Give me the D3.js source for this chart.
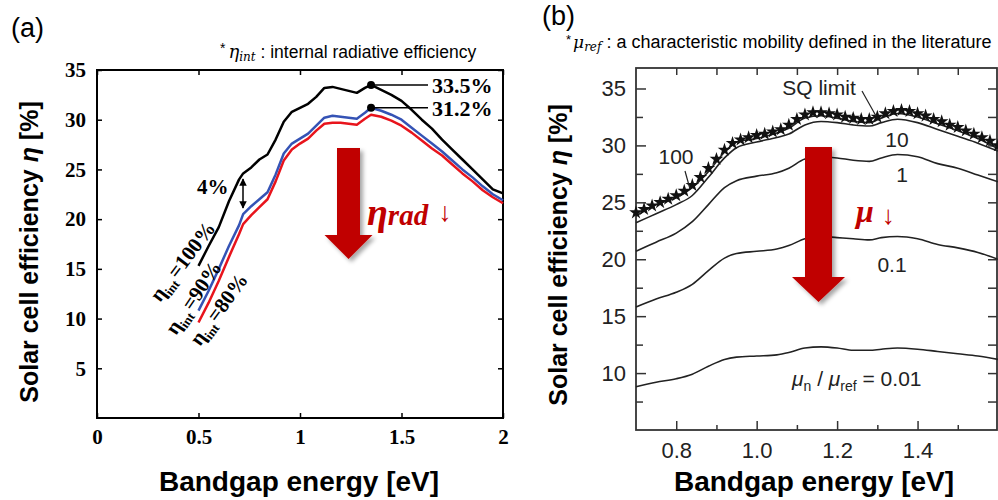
<!DOCTYPE html>
<meta charset="utf-8">
<style>
body { margin: 0; background: #fff; }
svg { display: block; font-family: "Liberation Sans", Arial, sans-serif; }
.axA text { font-family: "Liberation Serif", "Times New Roman", serif; font-weight: bold; font-size: 21px; fill: #000; }
.axA line { stroke: #000; stroke-width: 1.5px; }
.axA path { display: none; }
.axB text { font-family: "Liberation Sans", Arial, sans-serif; font-size: 22px; fill: #222; }
.axB line { stroke: #333; stroke-width: 1.5px; }
.axB path { display: none; }
.curve { fill: none; stroke-linejoin: round; }
.serifb { font-family: "Liberation Serif", "Times New Roman", serif; font-weight: bold; }
</style>
<body>
<script src="https://d3js.org/d3.v7.min.js"></script>
<script>

// ---- panel (a): efficiency vs bandgap for eta_int = 100 / 90 / 80 %
var energyA = [0.5, 0.55, 0.6, 0.65, 0.7, 0.72, 0.76, 0.8, 0.84, 0.88, 0.92, 0.96, 1.0, 1.04, 1.08, 1.12,
               1.16, 1.2, 1.24, 1.28, 1.32, 1.35, 1.4, 1.45, 1.5, 1.55, 1.6, 1.65, 1.7, 1.75, 1.8, 1.85, 1.9, 1.95, 2.0];
var eta100 = [15.3, 17.3, 19.2, 21.8, 24.0, 24.6, 25.2, 26.0, 26.5, 28.0, 29.8, 30.8, 31.2, 31.6, 32.3, 33.2,
              33.3, 33.1, 32.9, 32.7, 33.2, 33.5, 33.0, 32.5, 31.9, 31.0, 30.0, 29.1, 28.0, 27.0, 26.0, 25.0, 24.0, 23.0, 22.6];
var eta90 = [10.8, 12.8, 15.0, 17.3, 19.4, 20.5, 21.3, 22.0, 22.7, 24.5, 26.6, 27.6, 28.1, 28.6, 29.4, 30.2,
             30.4, 30.3, 30.2, 30.1, 30.7, 31.2, 30.9, 30.5, 30.0, 29.2, 28.4, 27.6, 26.8, 25.9, 25.0, 24.2, 23.3, 22.5, 21.9];
var eta80 = [9.6, 11.6, 13.8, 16.2, 18.5, 19.5, 20.4, 21.2, 22.0, 23.8, 25.9, 27.0, 27.6, 28.1, 28.9, 29.6,
             29.7, 29.7, 29.6, 29.5, 30.1, 30.5, 30.3, 29.9, 29.4, 28.7, 27.9, 27.1, 26.4, 25.5, 24.6, 23.8, 22.9, 22.2, 21.6];
var peaksA = [{e: 1.35, v: 33.5, label: "33.5%"}, {e: 1.35, v: 31.2, label: "31.2%"}];
var ticksXA = [0, 0.5, 1, 1.5, 2];
var ticksYA = [5, 10, 15, 20, 25, 30, 35];

// ---- panel (b): efficiency vs bandgap for mobility ratios
var energyB = [0.70, 0.75, 0.80, 0.84, 0.88, 0.92, 0.95, 1.00, 1.05, 1.08, 1.12, 1.16, 1.20, 1.24, 1.28, 1.31,
               1.35, 1.40, 1.45, 1.50, 1.55, 1.60];
var mu100 = [23.8, 24.8, 25.4, 26.3, 27.7, 29.4, 30.3, 30.6, 31.1, 31.5, 32.4, 32.6, 32.4, 32.1, 32.0, 32.4,
             32.8, 32.5, 31.9, 31.3, 30.6, 29.7];
var mu10 = [23.2, 24.0, 24.8, 25.6, 27.2, 28.9, 29.8, 30.3, 30.7, 31.0, 31.8, 32.1, 32.0, 31.8, 31.7, 32.0,
            32.3, 32.0, 31.4, 30.8, 30.2, 29.5];
var mu1 = [20.7, 21.5, 22.3, 23.3, 24.8, 26.3, 26.9, 27.3, 27.6, 28.0, 28.8, 29.0, 28.9, 28.7, 28.6, 28.9,
           29.2, 29.0, 28.4, 28.0, 27.4, 26.8];
var mu01 = [15.8, 16.5, 17.1, 17.8, 19.0, 20.1, 20.5, 20.7, 20.9, 21.2, 21.8, 22.0, 21.9, 21.8, 21.7, 21.9,
            22.0, 21.8, 21.3, 21.0, 20.6, 20.0];
var mu001 = [8.8, 9.2, 9.5, 9.9, 10.6, 11.2, 11.4, 11.5, 11.6, 11.8, 12.2, 12.3, 12.2, 12.0, 12.0, 12.1,
             12.2, 12.1, 11.9, 11.7, 11.5, 11.2];
var sqEnergy = [0.70, 0.72, 0.74, 0.76, 0.78, 0.80, 0.82, 0.84, 0.86, 0.88, 0.90, 0.92, 0.94, 0.96, 0.98, 1.00,
                1.02, 1.04, 1.06, 1.08, 1.10, 1.12, 1.14, 1.16, 1.18, 1.20, 1.22, 1.24, 1.26, 1.28, 1.30, 1.32,
                1.34, 1.36, 1.38, 1.40, 1.42, 1.44, 1.46, 1.48, 1.50, 1.52, 1.54, 1.56, 1.58, 1.60];
var sqEta = [24.1, 24.4, 24.7, 25.0, 25.3, 25.6, 26.0, 26.5, 27.2, 28.0, 28.8, 29.6, 30.2, 30.5, 30.7, 30.9,
             31.0, 31.2, 31.4, 31.8, 32.3, 32.7, 32.9, 32.9, 32.8, 32.7, 32.5, 32.4, 32.3, 32.3, 32.5, 32.8,
             33.0, 33.1, 33.0, 32.8, 32.6, 32.3, 32.1, 31.8, 31.6, 31.3, 31.0, 30.7, 30.4, 30.0];
var ticksXB = [0.8, 1.0, 1.2, 1.4];
var minorXB = [0.9, 1.1, 1.3, 1.5];
var ticksYB = [10, 15, 20, 25, 30, 35];
var minorYB = [7.5, 12.5, 17.5, 22.5, 27.5, 32.5];

var svg = d3.select("body").append("svg")
    .attr("width", 998)
    .attr("height", 500);

var defs = svg.append("defs");
defs.append("filter").attr("id", "shadow")
    .attr("x", "-30%").attr("y", "-20%").attr("width", "160%").attr("height", "140%")
  .append("feDropShadow")
    .attr("dx", 3).attr("dy", 3).attr("stdDeviation", 2)
    .attr("flood-color", "#000").attr("flood-opacity", 0.35);
defs.append("marker").attr("id", "ah")
    .attr("viewBox", "0 0 10 10").attr("refX", 9).attr("refY", 5)
    .attr("markerWidth", 5).attr("markerHeight", 5).attr("orient", "auto-start-reverse")
  .append("path").attr("d", "M0,0 L10,5 L0,10 z").attr("fill", "#000");

function arrowPath(cx, top, shaftW, headW, headY, tipY) {
  return "M" + (cx - shaftW / 2) + "," + top + "H" + (cx + shaftW / 2) + "V" + headY +
         "H" + (cx + headW / 2) + "L" + cx + "," + tipY + "L" + (cx - headW / 2) + "," + headY +
         "H" + (cx - shaftW / 2) + "Z";
}

// ================= panel (a) =================
var xa = d3.scaleLinear().domain([0, 2]).range([97, 503]);
var ya = d3.scaleLinear().domain([0, 35]).range([418, 70]);

var ga = svg.append("g");

ga.append("g").attr("class", "axA").attr("transform", "translate(0,418)")
  .call(d3.axisBottom(xa).tickValues(ticksXA).tickSize(-5).tickPadding(11).tickFormat(d3.format("")));
ga.append("g").attr("class", "axA").attr("transform", "translate(0,70)")
  .call(d3.axisTop(xa).tickValues(ticksXA).tickSize(-5).tickFormat(""));
ga.append("g").attr("class", "axA").attr("transform", "translate(97,0)")
  .call(d3.axisLeft(ya).tickValues(ticksYA).tickSize(-5).tickPadding(11));
ga.append("g").attr("class", "axA").attr("transform", "translate(503,0)")
  .call(d3.axisRight(ya).tickValues(ticksYA).tickSize(-5).tickFormat(""));
ga.append("rect").attr("x", 97).attr("y", 70).attr("width", 406).attr("height", 348)
  .attr("fill", "none").attr("stroke", "#000").attr("stroke-width", 2);

var lineA = function(vals) {
  return d3.line().x(function(d, i) { return xa(energyA[i]); })
                  .y(function(d) { return ya(d); })(vals);
};
ga.append("path").attr("class", "curve").attr("d", lineA(eta80)).attr("stroke", "#e8141c").attr("stroke-width", 2.5);
ga.append("path").attr("class", "curve").attr("d", lineA(eta90)).attr("stroke", "#3553b5").attr("stroke-width", 2.5);
ga.append("path").attr("class", "curve").attr("d", lineA(eta100)).attr("stroke", "#000").attr("stroke-width", 2.5);

peaksA.forEach(function(p) {
  ga.append("line").attr("x1", xa(p.e)).attr("x2", 428).attr("y1", ya(p.v)).attr("y2", ya(p.v))
    .attr("stroke", "#000").attr("stroke-width", 1.5);
  ga.append("circle").attr("cx", xa(p.e)).attr("cy", ya(p.v)).attr("r", 4).attr("fill", "#000");
  ga.append("text").attr("class", "serifb").attr("x", 432).attr("y", ya(p.v) + 8)
    .style("font-size", "22px").text(p.label);
});

// 4% gap marker
ga.append("line").attr("x1", 243).attr("x2", 243).attr("y1", 179).attr("y2", 208)
  .attr("stroke", "#000").attr("stroke-width", 1.5)
  .attr("marker-start", "url(#ah)").attr("marker-end", "url(#ah)");
ga.append("text").attr("class", "serifb").attr("x", 197).attr("y", 194)
  .style("font-size", "21px").text("4%");

// rotated series labels
[{x: 160, y: 303, r: -53, t: "=100%"}, {x: 176, y: 336, r: -56, t: "=90%"}, {x: 200, y: 347, r: -54, t: "=80%"}]
  .forEach(function(l) {
    var t = ga.append("text").attr("class", "serifb")
      .attr("transform", "translate(" + l.x + "," + l.y + ") rotate(" + l.r + ")")
      .style("font-size", "21px");
    t.append("tspan").text("\u03b7");
    t.append("tspan").attr("dy", 5).style("font-size", "13px").text("int");
    t.append("tspan").attr("dy", -5).attr("dx", 2).text(l.t);
  });

// big arrow + eta_rad
ga.append("path").attr("d", arrowPath(348.5, 148, 23, 48, 235, 259))
  .attr("fill", "#c00000").attr("filter", "url(#shadow)");
var er = ga.append("text").attr("x", 367).attr("y", 225).attr("fill", "#c00000")
  .style("font-family", "'Liberation Serif', 'DejaVu Serif', serif").style("font-style", "italic").style("font-weight", "bold");
er.append("tspan").style("font-size", "38px").text("\u03b7");
er.append("tspan").style("font-size", "29px").text("rad");
er.append("tspan").style("font-size", "27px").style("font-style", "normal").style("font-weight", "normal")
  .attr("dx", 10).attr("dy", -4).text("\u2193");

// titles (a)
svg.append("text").attr("x", 11).attr("y", 37).style("font-size", "27px").text("(a)");
var na = svg.append("text").attr("x", 220).attr("y", 58).style("font-size", "17.5px");
na.append("tspan").attr("dy", -5).style("font-size", "14px").text("*");
na.append("tspan").attr("dy", 5).attr("dx", 3).style("font-family", "'DejaVu Serif', serif").style("font-style", "italic").style("font-size", "18px").text("\u03b7");
na.append("tspan").attr("dy", 3).style("font-family", "'DejaVu Serif', serif").style("font-style", "italic").style("font-size", "12px").text("int");
na.append("tspan").attr("dy", -3).text(" : internal radiative efficiency");

var yta = svg.append("text").attr("transform", "translate(38,252) rotate(-90)")
  .attr("text-anchor", "middle").style("font-size", "25px").style("font-weight", "bold");
yta.append("tspan").text("Solar cell efficiency ");
yta.append("tspan").style("font-style", "italic").text("\u03b7");
yta.append("tspan").text(" [%]");
svg.append("text").attr("x", 299).attr("y", 491).attr("text-anchor", "middle")
  .style("font-size", "28px").style("font-weight", "bold").text("Bandgap energy [eV]");

// ================= panel (b) =================
var xb = d3.scaleLinear().domain([0.7, 1.6]).range([636, 998]);
var yb = d3.scaleLinear().domain([5, 36.8]).range([430, 68]);

var gb = svg.append("g");

gb.append("g").attr("class", "axB").attr("transform", "translate(0,430)")
  .call(d3.axisBottom(xb).tickValues(ticksXB).tickSize(-9).tickPadding(12).tickFormat(d3.format(".1f")));
gb.append("g").attr("class", "axB").attr("transform", "translate(0,430)")
  .call(d3.axisBottom(xb).tickValues(minorXB).tickSize(-5).tickFormat(""));
gb.append("g").attr("class", "axB").attr("transform", "translate(0,68)")
  .call(d3.axisTop(xb).tickValues(ticksXB.concat(minorXB)).tickSize(-7).tickFormat(""));
gb.append("g").attr("class", "axB").attr("transform", "translate(636,0)")
  .call(d3.axisLeft(yb).tickValues(ticksYB).tickSize(-10).tickPadding(10));
gb.append("g").attr("class", "axB").attr("transform", "translate(636,0)")
  .call(d3.axisLeft(yb).tickValues(minorYB).tickSize(-7).tickFormat(""));
gb.append("g").attr("class", "axB").attr("transform", "translate(997,0)")
  .call(d3.axisRight(yb).tickValues(ticksYB.concat(minorYB)).tickSize(-9).tickFormat(""));
gb.append("rect").attr("x", 636).attr("y", 68).attr("width", 361).attr("height", 362)
  .attr("fill", "none").attr("stroke", "#333").attr("stroke-width", 1.8);

var lineB = function(vals) {
  return d3.line().curve(d3.curveMonotoneX)
    .x(function(d, i) { return xb(energyB[i]); })
    .y(function(d) { return yb(d); })(vals);
};
[mu100, mu10, mu1, mu01, mu001].forEach(function(s) {
  gb.append("path").attr("class", "curve").attr("d", lineB(s)).attr("stroke", "#222").attr("stroke-width", 1.6);
});

gb.selectAll(".star").data(sqEta).enter().append("path")
  .attr("class", "star")
  .attr("transform", function(d, i) { return "translate(" + xb(sqEnergy[i]) + "," + yb(d) + ")"; })
  .attr("d", d3.symbol().type(d3.symbolStar).size(58))
  .attr("fill", "#111");

// big arrow + mu
gb.append("path").attr("d", arrowPath(818.5, 147, 27, 53, 277, 302))
  .attr("fill", "#c00000").attr("filter", "url(#shadow)");
var mt = gb.append("text").attr("x", 856).attr("y", 222).attr("fill", "#c00000")
  .style("font-family", "'Liberation Serif', 'DejaVu Serif', serif");
mt.append("tspan").style("font-size", "32px").style("font-style", "italic").style("font-weight", "bold").text("\u03bc");
mt.append("tspan").attr("dx", 8).attr("dy", 2).style("font-size", "26px").text("\u2193");

// curve labels (b)
var lab = function(x, y, t) {
  return gb.append("text").attr("x", x).attr("y", y).attr("text-anchor", "middle")
    .style("font-size", "21px").attr("fill", "#222").text(t);
};
lab(819, 95, "SQ limit");
lab(676, 164, "100");
lab(897, 147, "10");
lab(902, 182, "1");
lab(892, 272, "0.1");
gb.append("line").attr("x1", 862).attr("y1", 91).attr("x2", 876).attr("y2", 116)
  .attr("stroke", "#222").attr("stroke-width", 1.2);
gb.append("line").attr("x1", 685).attr("y1", 171).attr("x2", 690).attr("y2", 189)
  .attr("stroke", "#222").attr("stroke-width", 1.2);

var ml = gb.append("text").attr("x", 792).attr("y", 386).attr("fill", "#222").style("font-size", "21px");
ml.append("tspan").style("font-style", "italic").text("\u03bc");
ml.append("tspan").attr("dy", 5).style("font-size", "14px").text("n");
ml.append("tspan").attr("dy", -5).text(" / ");
ml.append("tspan").style("font-style", "italic").text("\u03bc");
ml.append("tspan").attr("dy", 5).style("font-size", "14px").text("ref");
ml.append("tspan").attr("dy", -5).text(" = 0.01");

// titles (b)
svg.append("text").attr("x", 542).attr("y", 25).style("font-size", "27px").text("(b)");
var nb = svg.append("text").attr("x", 566).attr("y", 48).style("font-size", "18px");
nb.append("tspan").attr("dy", -4).style("font-size", "13px").text("*");
nb.append("tspan").attr("dy", 4).attr("dx", 2).style("font-family", "'DejaVu Serif', serif").style("font-style", "italic").style("font-size", "17px").text("\u03bc");
nb.append("tspan").attr("dy", 3).style("font-family", "'DejaVu Serif', serif").style("font-style", "italic").style("font-size", "12px").text("ref");
nb.append("tspan").attr("dy", -3).text(" : a characteristic mobility defined in the literature");

var ytb = svg.append("text").attr("transform", "translate(567,255) rotate(-90)")
  .attr("text-anchor", "middle").style("font-size", "25px").style("font-weight", "bold");
ytb.append("tspan").text("Solar cell efficiency ");
ytb.append("tspan").style("font-style", "italic").text("\u03b7");
ytb.append("tspan").text(" [%]");
svg.append("text").attr("x", 814).attr("y", 491).attr("text-anchor", "middle")
  .style("font-size", "28px").style("font-weight", "bold").text("Bandgap energy [eV]");

</script>
</body>
